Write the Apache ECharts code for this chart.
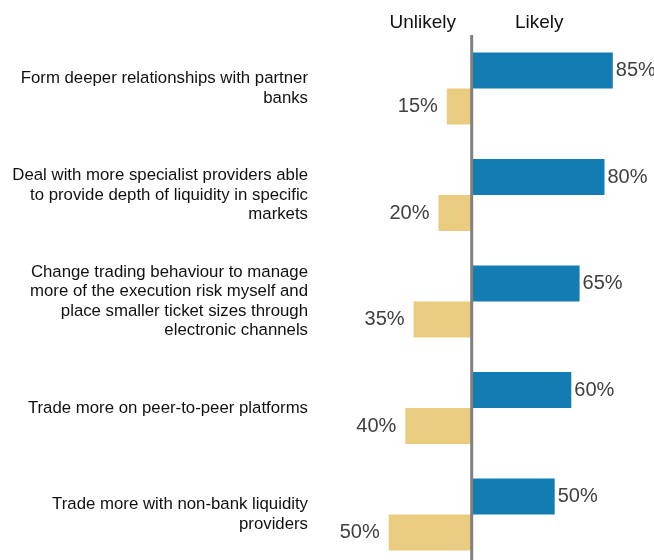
<!DOCTYPE html>
<html>
<head>
<meta charset="utf-8">
<script src="https://cdn.jsdelivr.net/npm/echarts@6/dist/echarts.min.js"></script>
<style>
  html, body { margin: 0; padding: 0; background: #fff; }
  #chart { width: 654px; height: 560px; }
</style>
</head>
<body>
<div id="chart"></div>
<script>
// 数据
const categories = [
    'Form deeper relationships with partner\nbanks',
    'Deal with more specialist providers able\nto provide depth of liquidity in specific\nmarkets',
    'Change trading behaviour to manage\nmore of the execution risk myself and\nplace smaller ticket sizes through\nelectronic channels',
    'Trade more on peer-to-peer platforms',
    'Trade more with non-bank liquidity\nproviders'
];
const likely = [85, 80, 65, 60, 50];
const unlikely = [15, 20, 35, 40, 50];
const headers = ['Unlikely', 'Likely'];

const font = 'Liberation Sans, Arial, sans-serif';

let myChart = echarts.init(document.getElementById('chart'));
let option = {
    animation: false,
    // 类目放在网格边缘，间距 = height / 4
    grid: {
        left: 314,
        top: 88.5,
        width: 332,
        height: 426
    },
    graphic: [{
        id: 'hdrLeft',
        type: 'text',
        x: 456,
        y: 23,
        style: {
            text: headers[0],
            align: 'right',
            verticalAlign: 'middle',
            fontSize: 19,
            fontFamily: font,
            fill: '#111'
        }
    }, {
        id: 'hdrRight',
        type: 'text',
        x: 515,
        y: 23,
        style: {
            text: headers[1],
            align: 'left',
            verticalAlign: 'middle',
            fontSize: 19,
            fontFamily: font,
            fill: '#111'
        }
    }],
    xAxis: {
        type: 'value',
        min: -95,
        max: 105,
        show: false
    },
    yAxis: {
        type: 'category',
        data: categories,
        inverse: true,
        boundaryGap: false,
        axisLine: { show: false, onZero: false },
        axisTick: { show: false },
        splitLine: { show: false },
        axisLabel: {
            margin: 6,
            fontSize: 16.8,
            lineHeight: 19.5,
            fontFamily: font,
            color: '#111',
            align: 'right'
        }
    },
    series: [{
        name: 'Likely',
        type: 'bar',
        data: likely,
        barWidth: 36,
        barGap: '0%',
        clip: false,
        itemStyle: { color: '#137db3' },
        label: {
            show: true,
            position: 'right',
            distance: 3,
            fontSize: 20,
            fontFamily: font,
            color: '#404040',
            formatter: p => p.value + '%'
        }
    }, {
        name: 'Unlikely',
        type: 'bar',
        data: unlikely.map(v => -v),
        barWidth: 36,
        barGap: '0%',
        clip: false,
        itemStyle: { color: '#e9cc80' },
        label: {
            show: true,
            position: 'left',
            distance: 9,
            fontSize: 20,
            fontFamily: font,
            color: '#404040',
            formatter: p => Math.abs(p.value) + '%'
        }
    }]
};
myChart.setOption(option);

// 中轴线：取 0 的像素位置
let x0 = myChart.convertToPixel({ xAxisIndex: 0 }, 0);
myChart.setOption({
    graphic: [{
        id: 'zeroLine',
        type: 'line',
        silent: true,
        z: 10,
        shape: { x1: x0, y1: 35, x2: x0, y2: 560 },
        style: { stroke: '#808080', lineWidth: 3 }
    }]
});
</script>
</body>
</html>
